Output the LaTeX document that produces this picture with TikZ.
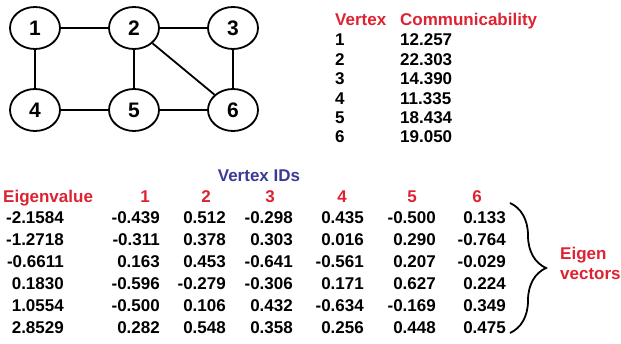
\documentclass[tikz,border=0pt]{standalone}
\usepackage{fontspec}
\setmainfont{Liberation Sans}
\usetikzlibrary{shapes.geometric,decorations.pathreplacing}
\definecolor{tabred}{RGB}{222,34,50}
\definecolor{idblue}{RGB}{60,58,150}

\begin{document}
\begin{tikzpicture}[x=1pt,y=-1pt,
	vertex/.style={ellipse,draw,line width=1.8pt,minimum width=50pt,minimum height=42pt,inner sep=0pt,font=\bfseries\fontsize{21}{22}\selectfont},
	edge/.style={line width=1.8pt},
	txt/.style={inner sep=0pt,font=\bfseries\fontsize{17}{20}\selectfont},
	hdr/.style={txt,text=tabred}]
	\useasboundingbox (0,0) rectangle (621,344);
	% the graph
	\node[vertex] (v1) at (35,28) {1};
	\node[vertex] (v2) at (134,28) {2};
	\node[vertex] (v3) at (233,28) {3};
	\node[vertex] (v4) at (35,110) {4};
	\node[vertex] (v5) at (134,110) {5};
	\node[vertex] (v6) at (233,110) {6};
	\draw[edge] (v1) -- (v2);
	\draw[edge] (v2) -- (v3);
	\draw[edge] (v1) -- (v4);
	\draw[edge] (v4) -- (v5);
	\draw[edge] (v5) -- (v6);
	\draw[edge] (v2) -- (v5);
	\draw[edge] (v3) -- (v6);
	\draw[edge] (v2) -- (v6);
	% communicability per vertex
	\node[hdr,anchor=base west] (vhead) at (335,26) {Vertex};
	\node[hdr,anchor=base west] (chead) at (400,26) {Communicability};
	\foreach \v/\c [count=\i from 0] in {1/12.257,2/22.303,3/14.390,4/11.335,5/18.434,6/19.050}{
		\node[txt,anchor=base west] (vid\v) at (335,46+19.4*\i) {\v};
		\node[txt,anchor=base west] (com\v) at (400,46+19.4*\i) {\c};
	}
	% eigenvalues and eigenvectors
	\node[txt,text=idblue,anchor=base] (ids) at (259,182) {Vertex IDs};
	\node[hdr,anchor=base west] (evhead) at (3,203) {Eigenvalue};
	\foreach \k/\x in {1/145,2/206,3/270,4/342,5/412,6/477}
		\node[hdr,anchor=base] (id\k) at (\x,203) {\k};
	\foreach \ev/\a/\b/\c/\d/\e/\f [count=\r from 0] in {
		-2.1584/-0.439/0.512/-0.298/0.435/-0.500/0.133,
		-1.2718/-0.311/0.378/0.303/0.016/0.290/-0.764,
		-0.6611/0.163/0.453/-0.641/-0.561/0.207/-0.029,
		0.1830/-0.596/-0.279/-0.306/0.171/0.627/0.224,
		1.0554/-0.500/0.106/0.432/-0.634/-0.169/0.349,
		2.8529/0.282/0.548/0.358/0.256/0.448/0.475}{
		\node[txt,anchor=base east] (ev\r) at (64,224+21.9*\r) {\ev};
		\node[txt,anchor=base east] (x\r-1) at (160,224+21.9*\r) {\a};
		\node[txt,anchor=base east] (x\r-2) at (226,224+21.9*\r) {\b};
		\node[txt,anchor=base east] (x\r-3) at (293,224+21.9*\r) {\c};
		\node[txt,anchor=base east] (x\r-4) at (364,224+21.9*\r) {\d};
		\node[txt,anchor=base east] (x\r-5) at (436,224+21.9*\r) {\e};
		\node[txt,anchor=base east] (x\r-6) at (506,224+21.9*\r) {\f};
	}
	% brace round the eigenvector rows
	\coordinate (btop) at (510,203);
	\coordinate (bbot) at (510,333);
	\draw[line width=1.8pt,decorate,decoration={brace,amplitude=36pt}] (btop) -- (bbot);
	\node[hdr,align=left,anchor=west] (evlabel) at (560,263) {Eigen\\vectors};
\end{tikzpicture}
\end{document}
